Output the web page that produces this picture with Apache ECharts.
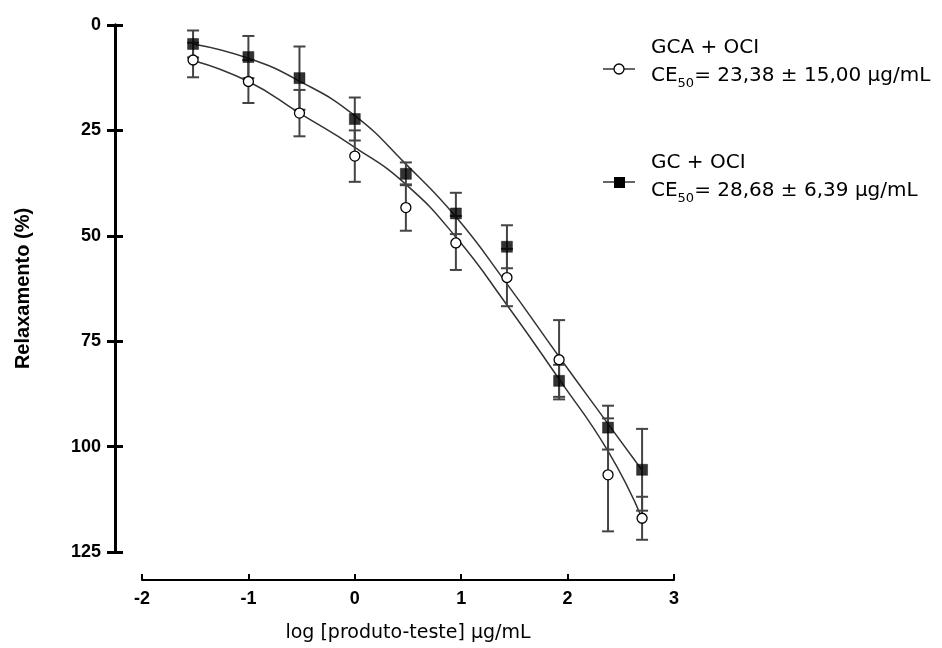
<!DOCTYPE html>
<html><head><meta charset="utf-8">
<script src="https://cdn.jsdelivr.net/npm/echarts@6/dist/echarts.min.js"></script>
<style>html,body{margin:0;padding:0;background:#fff}#c{width:942px;height:648px}</style>
</head><body><div id="c"></div>
<script>
// ---- data ----
const logConc = [-1.52, -1.0, -0.52, 0.0, 0.48, 0.95, 1.43, 1.92, 2.38, 2.70];
const gcaMean = [8.3, 13.4, 20.9, 31.1, 43.3, 51.7, 59.9, 79.4, 106.7, 117.0];
const gcaSem  = [4.1, 5.1, 5.5, 6.1, 5.5, 6.4, 6.8, 9.4, 13.4, 5.1];
const gcMean  = [4.5, 7.6, 12.6, 22.3, 35.3, 44.7, 52.6, 84.4, 95.5, 105.5];
const gcSem   = [3.2, 5.0, 7.5, 5.1, 2.7, 4.9, 5.1, 3.8, 5.2, 9.7];
// fitted curves at each concentration
const gcaFitY = [8.4, 13.4, 20.9, 29.0, 37.8, 50.3, 66.4, 84.0, 101.1, 117.0];
const gcFitY  = [4.5, 7.9, 13.3, 21.5, 33.0, 45.5, 61.4, 78.7, 94.6, 105.6];
const xTickLabels = ['-2', '-1', '0', '1', '2', '3'];
const yTickLabels = ['0', '25', '50', '75', '100', '125'];
const seriesNames = ['GCA + OCI', 'GC + OCI'];
const ce50Text = ['= 23,38 ± 15,00 µg/mL', '= 28,68 ± 6,39 µg/mL'];

const regular = 'DejaVu Sans';
const boldF = 'Liberation Sans';

function errRender(params, api) {
  const x = api.value(0), m = api.value(1), e = api.value(2);
  const a = api.coord([x, m - e]);
  const b = api.coord([x, m + e]);
  const hw = 6;
  const style = { stroke: '#444', lineWidth: 2, fill: null };
  return { type: 'group', children: [
    { type: 'line', shape: { x1: a[0], y1: a[1], x2: b[0], y2: b[1] }, style: style },
    { type: 'line', shape: { x1: a[0] - hw, y1: a[1], x2: a[0] + hw, y2: a[1] }, style: style },
    { type: 'line', shape: { x1: b[0] - hw, y1: b[1], x2: b[0] + hw, y2: b[1] }, style: style }
  ]};
}

const chart = echarts.init(document.getElementById('c'), null, { renderer: 'canvas' });

const legendRich = {
  a: { fontFamily: regular, fontSize: 20, lineHeight: 28, color: '#000' },
  s: { fontFamily: regular, fontSize: 13, lineHeight: 14, verticalAlign: 'bottom', color: '#000' }
};
function legendText(i) {
  return '{a|' + seriesNames[i] + '}\n{a|CE}{s|50}{a|' + ce50Text[i] + '}';
}

chart.setOption({
  animation: false,
  backgroundColor: '#fff',
  grid: { left: 142, right: 268, top: 25, bottom: 94, containLabel: false },
  xAxis: {
    type: 'value', min: -2, max: 3, interval: 1, offset: 28, position: 'bottom',
    axisLine: { show: true, onZero: false, lineStyle: { color: '#000', width: 2 } },
    axisTick: { show: true, inside: true, length: 6, lineStyle: { color: '#000', width: 2 } },
    axisLabel: { fontFamily: boldF, fontWeight: 'bold', fontSize: 18, color: '#000', margin: 10,
      formatter: function (v) { return xTickLabels[Math.round(v + 2)]; } },
    splitLine: { show: false },
    name: 'log [produto-teste] µg/mL', nameLocation: 'middle', nameGap: 44,
    nameTextStyle: { fontFamily: regular, fontSize: 19, color: '#000' }
  },
  yAxis: [{
    type: 'value', inverse: true, min: 0, max: 125, interval: 25, offset: 27, position: 'left',
    axisLine: { show: true, onZero: false, lineStyle: { color: '#000', width: 3 } },
    axisTick: { show: true, length: 8, lineStyle: { color: '#000', width: 3 } },
    axisLabel: { fontFamily: boldF, fontWeight: 'bold', fontSize: 18, color: '#000', margin: 14,
      formatter: function (v) { return yTickLabels[Math.round(v / 25)]; } },
    splitLine: { show: false },
    name: 'Relaxamento (%)', nameLocation: 'middle', nameGap: 82, nameRotate: 90,
    nameTextStyle: { fontFamily: boldF, fontWeight: 'bold', fontSize: 20, color: '#000' }
  }, {
    type: 'value', inverse: true, min: 0, max: 125, interval: 25, offset: 27, position: 'left',
    axisLine: { show: true, onZero: false, lineStyle: { color: '#000', width: 3 } },
    axisTick: { show: true, inside: true, length: 8, lineStyle: { color: '#000', width: 3 } },
    axisLabel: { show: false },
    splitLine: { show: false }
  }],
  series: [
    { type: 'line', name: 'fitGC', data: logConc.map((x, i) => [x, gcFitY[i]]), smooth: 0.5,
      showSymbol: false, symbol: 'none', lineStyle: { color: '#333', width: 1.5 }, z: 1, silent: true },
    { type: 'line', name: 'fitGCA', data: logConc.map((x, i) => [x, gcaFitY[i]]), smooth: 0.5,
      showSymbol: false, symbol: 'none', lineStyle: { color: '#333', width: 1.5 }, z: 1, silent: true },
    { type: 'custom', name: 'errGC', renderItem: errRender, data: logConc.map((x, i) => [x, gcMean[i], gcSem[i]]),
      encode: { x: 0, y: 1 }, z: 2, silent: true },
    { type: 'custom', name: 'errGCA', renderItem: errRender, data: logConc.map((x, i) => [x, gcaMean[i], gcaSem[i]]),
      encode: { x: 0, y: 1 }, z: 2, silent: true },
    { type: 'scatter', name: seriesNames[1], data: logConc.map((x, i) => [x, gcMean[i]]), symbol: 'rect', symbolSize: 11,
      itemStyle: { color: '#000', borderColor: '#000', borderWidth: 0.5 }, z: 5, silent: true },
    { type: 'scatter', name: seriesNames[0], data: logConc.map((x, i) => [x, gcaMean[i]]), symbol: 'circle', symbolSize: 10,
      itemStyle: { color: '#fff', borderColor: '#000', borderWidth: 1.3, opacity: 1 }, z: 6, silent: true }
  ],
  graphic: [
    { type: 'line', shape: { x1: 603, y1: 69, x2: 635, y2: 69 }, style: { stroke: '#333', lineWidth: 1.5 }, z: 10 },
    { type: 'circle', shape: { cx: 619, cy: 69, r: 5 }, style: { fill: '#fff', stroke: '#000', lineWidth: 1.3 }, z: 11 },
    { type: 'text', x: 651, y: 34, style: { text: legendText(0), rich: legendRich, fill: '#000' }, z: 11 },
    { type: 'line', shape: { x1: 603, y1: 182, x2: 635, y2: 182 }, style: { stroke: '#333', lineWidth: 1.5 }, z: 10 },
    { type: 'rect', shape: { x: 614, y: 177, width: 11, height: 11 }, style: { fill: '#000' }, z: 11 },
    { type: 'text', x: 651, y: 149, style: { text: legendText(1), rich: legendRich, fill: '#000' }, z: 11 }
  ]
});
</script>
</body></html>
